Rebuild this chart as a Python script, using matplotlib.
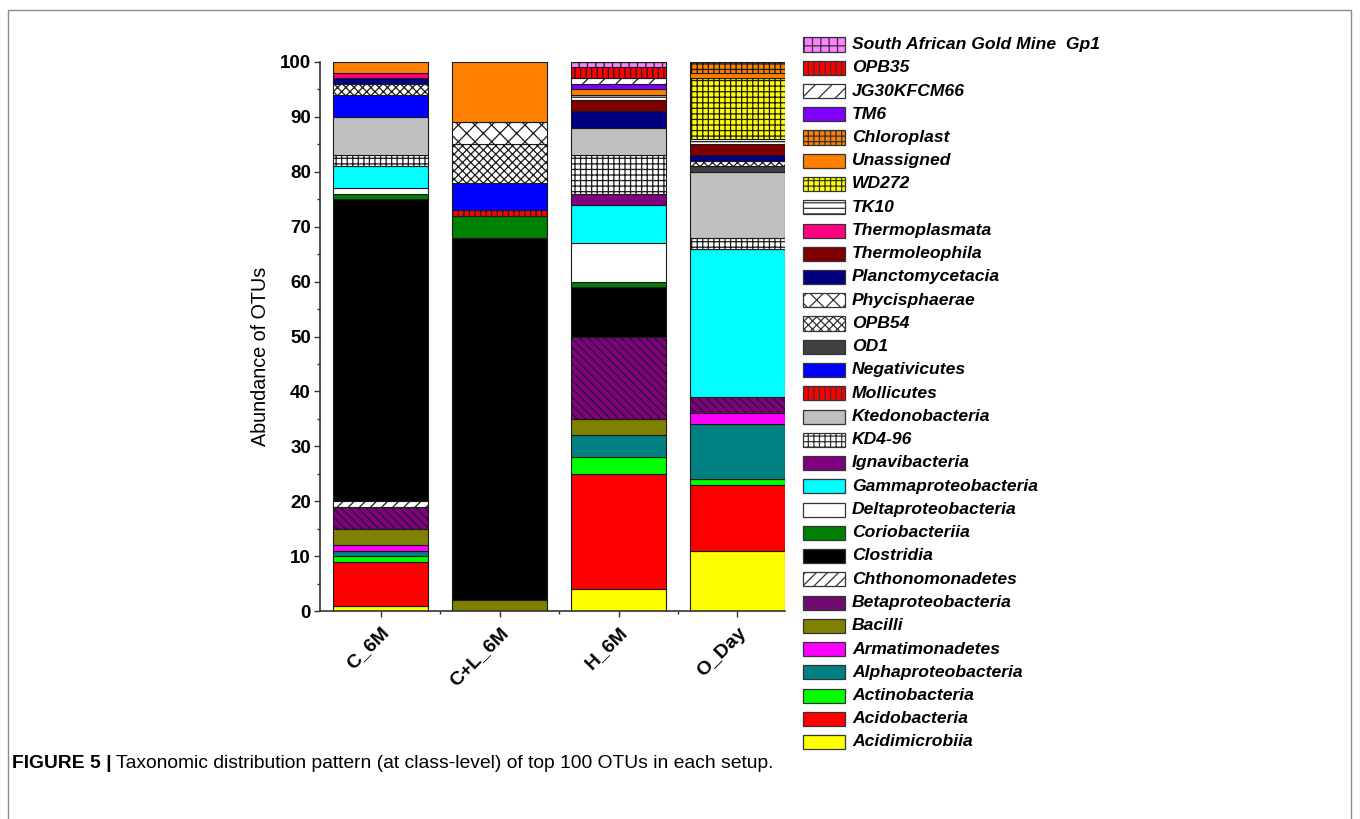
import matplotlib
matplotlib.use('Agg')
import matplotlib.pyplot as plt
from matplotlib.patches import Rectangle
from matplotlib.lines import Line2D
import numpy as np

# ---------------- data ----------------
samples = ['C_6M', 'C+L_6M', 'H_6M', 'O_Day']
taxa = ['Acidimicrobiia', 'Acidobacteria', 'Actinobacteria', 'Alphaproteobacteria',
        'Armatimonadetes', 'Bacilli', 'Betaproteobacteria', 'Chthonomonadetes',
        'Clostridia', 'Coriobacteriia', 'Deltaproteobacteria', 'Gammaproteobacteria',
        'Ignavibacteria', 'KD4-96', 'Ktedonobacteria', 'Mollicutes', 'Negativicutes',
        'OD1', 'OPB54', 'Phycisphaerae', 'Planctomycetacia', 'Thermoleophila',
        'Thermoplasmata', 'TK10', 'WD272', 'Unassigned', 'Chloroplast', 'TM6',
        'JG30KFCM66', 'OPB35', 'South African Gold Mine  Gp1']
c_6m   = [1, 8, 1, 1, 1, 3, 4, 1, 55, 1, 1, 4, 0, 2, 7, 0, 4, 0, 2, 0, 1, 0, 1, 0, 0, 2, 0, 0, 0, 0, 0]
cl_6m  = [0, 0, 0, 0, 0, 2, 0, 0, 66, 4, 0, 0, 0, 0, 0, 1, 5, 0, 7, 4, 0, 0, 0, 0, 0, 11, 0, 0, 0, 0, 0]
h_6m   = [4, 21, 3, 4, 0, 3, 15, 0, 9, 1, 7, 7, 2, 7, 5, 0, 0, 0, 0, 0, 3, 2, 0, 1, 0, 1, 0, 1, 1, 2, 1]
o_day  = [11, 12, 1, 10, 2, 0, 3, 0, 0, 0, 0, 27, 0, 2, 12, 0, 0, 1, 1, 0, 1, 2, 0, 1, 11, 1, 2, 0, 0, 0, 0]
yticks = [0, 10, 20, 30, 40, 50, 60, 70, 80, 90, 100]

# ---------------- styles ----------------
colors = ['#FFFF00', '#FF0000', '#00FF00', '#008080', '#FF00FF', '#808000', '#800080',
          '#FFFFFF', '#000000', '#008000', '#FFFFFF', '#00FFFF', '#800080', '#FFFFFF',
          '#C0C0C0', '#FF0000', '#0000FF', '#404040', '#FFFFFF', '#FFFFFF', '#000080',
          '#800000', '#FF0080', '#FFFFFF', '#FFFF00', '#FF8000', '#FF8000', '#8000FF',
          '#FFFFFF', '#FF0000', '#FF80FF']
hatches = [None, None, None, None, None, None, '\\\\\\\\', '///', None, None, None, None,
           None, '+++', None, '|||', None, None, 'xxxx', 'xx', None, None, None, '---',
           '+++', None, '+++', None, '//', '|||', '++']

plt.rcParams['hatch.linewidth'] = 0.9
W, H = 1360, 819
fig = plt.figure(figsize=(W / 100, H / 100), dpi=100)

def fx(px):
    return px / W

def fy(py):
    return 1 - py / H

ax_l, ax_r, ax_t, ax_b = 320, 785, 62, 611
ax = fig.add_axes([fx(ax_l), fy(ax_b), fx(ax_r - ax_l), (ax_b - ax_t) / H])

data = np.array([c_6m, cl_6m, h_6m, o_day], dtype=float)
x = np.arange(len(samples))
bottom = np.zeros(len(samples))
for i, name in enumerate(taxa):
    vals = data[:, i]
    for j in range(len(samples)):
        if vals[j] > 0:
            ax.bar(x[j], vals[j], bottom=bottom[j], width=0.8, color=colors[i],
                   hatch=hatches[i], edgecolor='#1a1a1a', linewidth=0.8, zorder=2)
    bottom += vals

ax.set_xlim(-0.51, 3.4)
ax.set_ylim(0, 100)
ax.set_yticks(yticks)
ax.set_yticks(np.arange(5, 100, 10), minor=True)
ax.set_xticks(x)
ax.set_xticks([0.5, 1.5, 2.5], minor=True)
ax.set_xticklabels(samples, rotation=45, ha='right', rotation_mode='anchor',
                   fontsize=14, fontweight='bold', family='Liberation Sans')
ax.set_yticklabels([str(v) for v in yticks], fontsize=13.5, fontweight='bold',
                   family='Liberation Sans')
ax.tick_params(axis='both', which='major', direction='out', length=4.5, width=1,
               color='#333333', pad=2)
ax.tick_params(axis='both', which='minor', direction='out', length=2.5, width=1,
               color='#333333')
ax.tick_params(axis='x', which='major', pad=5)
for s in ['top', 'right']:
    ax.spines[s].set_visible(False)
for s in ['left', 'bottom']:
    ax.spines[s].set_linewidth(1.2)
    ax.spines[s].set_color('#333333')

fig.text(fx(261), fy(356), 'Abundance of OTUs', rotation=90, ha='center', va='center',
         fontsize=14.2, family='Liberation Sans')

# ---------------- legend (top entry = last taxon) ----------------
leg_x, leg_y0, leg_dy = 803, 44.5, 23.25
pw, ph = 42, 14
for k, i in enumerate(range(len(taxa) - 1, -1, -1)):
    cy = leg_y0 + k * leg_dy
    r = Rectangle((fx(leg_x), fy(cy + ph / 2)), fx(pw), ph / H, transform=fig.transFigure,
                  facecolor=colors[i], hatch=hatches[i], edgecolor='#333333',
                  linewidth=0.9)
    fig.add_artist(r)
    fig.text(fx(852), fy(cy), taxa[i], ha='left', va='center', fontsize=12.6,
             fontweight='bold', fontstyle='italic', family='Liberation Sans')

# ---------------- frame & caption ----------------
fig.add_artist(Line2D([fx(8), fx(8), fx(1351), fx(1351)], [0, fy(10), fy(10), 0],
                      transform=fig.transFigure, color='#8c8c8c', linewidth=1.0))
t1 = fig.text(fx(12), fy(763), 'FIGURE 5 |', ha='left', va='center', fontsize=13.9,
              fontweight='bold', family='Liberation Sans')
fig.canvas.draw()
bb = t1.get_window_extent()
fig.text((bb.x1 + 4) / W, fy(763),
         'Taxonomic distribution pattern (at class-level) of top 100 OTUs in each setup.',
         ha='left', va='center', fontsize=13.9, family='Liberation Sans')

fig.savefig('out.png', dpi=100)
